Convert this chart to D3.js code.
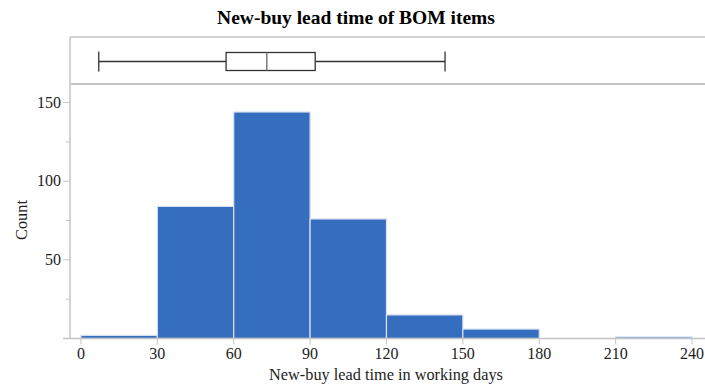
<!DOCTYPE html>
<html>
<head>
<meta charset="utf-8">
<style>
    body { margin: 0; background: #fff; }
    svg { display: block; font-family: 'Liberation Serif', 'Times New Roman', serif; }
</style>
</head>
<body>
<svg width="705" height="385"></svg>
<script src="https://d3js.org/d3.v7.min.js"></script>
<script>
    // histogram bins (working days) and counts
    const binStarts = [0, 30, 60, 90, 120, 150, 180, 210]
    const binWidth = 30
    const counts = [2, 84, 144, 76, 15, 6, 0, 1]
    const xTicks = [0, 30, 60, 90, 120, 150, 180, 210, 240]
    const yTicks = [50, 100, 150]
    const yMinor = [25, 75, 125]
    // box plot summary: min whisker, q1, median, q3, max whisker
    const boxStats = [7, 57, 73, 92, 143]

    const svg = d3.select("svg")
    const left = 70, right = 705
    const boxTop = 37, histTop = 84, histBottom = 338.5

    const x = d3.scaleLinear().domain([-4.3, 245.1]).range([left, right])
    const y = d3.scaleLinear().domain([0, 161.8]).range([histBottom, histTop])

    const grey = "#c4c4c4"

    // title
    svg.append("text")
        .attr("x", 356).attr("y", 24)
        .attr("text-anchor", "middle")
        .style("font-size", "19.5px").style("font-weight", "bold")
        .text("New-buy lead time of BOM items")

    // bars
    svg.selectAll(".bar")
        .data(binStarts.map((s, i) => ({ s: s, c: counts[i] })).filter(d => d.c > 0))
        .join("rect")
        .attr("class", "bar")
        .attr("x", d => x(d.s))
        .attr("width", d => x(d.s + binWidth) - x(d.s))
        .attr("y", d => y(d.c))
        .attr("height", d => y(0) - y(d.c))
        .style("fill", "#356dbf")
        .style("stroke", "#d8e2f0")
        .style("stroke-width", 1.2)

    // panel lines
    svg.append("line").attr("x1", left).attr("x2", right).attr("y1", boxTop).attr("y2", boxTop)
        .style("stroke", grey).style("stroke-width", 1.5)
    svg.append("line").attr("x1", left).attr("x2", right).attr("y1", histTop).attr("y2", histTop)
        .style("stroke", grey).style("stroke-width", 2)
    svg.append("line").attr("x1", left).attr("x2", left).attr("y1", boxTop).attr("y2", histBottom)
        .style("stroke", grey).style("stroke-width", 1.5)
    svg.append("line").attr("x1", left - 7).attr("x2", right).attr("y1", histBottom).attr("y2", histBottom)
        .style("stroke", grey).style("stroke-width", 1.5)

    // x axis
    const xAxis = svg.append("g")
    xAxis.selectAll("line")
        .data(xTicks).join("line")
        .attr("x1", d => x(d)).attr("x2", d => x(d))
        .attr("y1", histBottom).attr("y2", histBottom + 6)
        .style("stroke", grey)
    xAxis.selectAll("text")
        .data(xTicks).join("text")
        .attr("x", d => x(d)).attr("y", 359)
        .attr("text-anchor", "middle")
        .style("font-size", "16px").style("fill", "#222")
        .text(d => d)

    // y axis
    const yAxis = svg.append("g")
    yAxis.selectAll(".major")
        .data(yTicks).join("line")
        .attr("x1", left - 7).attr("x2", left)
        .attr("y1", d => y(d)).attr("y2", d => y(d))
        .style("stroke", grey)
    yAxis.selectAll(".minor")
        .data(yMinor).join("line")
        .attr("x1", left - 4).attr("x2", left)
        .attr("y1", d => y(d)).attr("y2", d => y(d))
        .style("stroke", grey)
    yAxis.selectAll("text")
        .data(yTicks).join("text")
        .attr("x", left - 9).attr("y", d => y(d) + 5)
        .attr("text-anchor", "end")
        .style("font-size", "16px").style("fill", "#222")
        .text(d => d)

    // axis titles
    svg.append("text")
        .attr("x", 386).attr("y", 380)
        .attr("text-anchor", "middle")
        .style("font-size", "16.3px").style("fill", "#222")
        .text("New-buy lead time in working days")
    svg.append("text")
        .attr("transform", "translate(27,220) rotate(-90)")
        .attr("text-anchor", "middle")
        .style("font-size", "16.3px").style("fill", "#222")
        .text("Count")

    // box plot
    const cy = 61.5, bh = 18
    const bp = svg.append("g").style("stroke", "#333").style("stroke-width", 1.3).style("fill", "none")
    bp.append("line").attr("x1", x(boxStats[0])).attr("x2", x(boxStats[1])).attr("y1", cy).attr("y2", cy)
    bp.append("line").attr("x1", x(boxStats[3])).attr("x2", x(boxStats[4])).attr("y1", cy).attr("y2", cy)
    bp.selectAll(".cap")
        .data([boxStats[0], boxStats[4]]).join("line")
        .attr("x1", d => x(d)).attr("x2", d => x(d))
        .attr("y1", cy - bh / 2 - 1).attr("y2", cy + bh / 2 + 1)
    bp.append("rect")
        .attr("x", x(boxStats[1])).attr("width", x(boxStats[3]) - x(boxStats[1]))
        .attr("y", cy - bh / 2).attr("height", bh)
    bp.append("line").attr("x1", x(boxStats[2])).attr("x2", x(boxStats[2]))
        .attr("y1", cy - bh / 2).attr("y2", cy + bh / 2)
        .style("stroke", "#666")
</script>
</body>
</html>
